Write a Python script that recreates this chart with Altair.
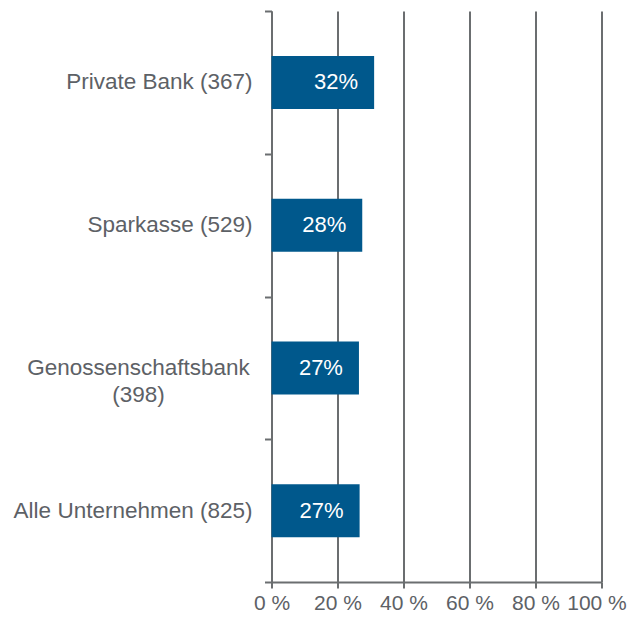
import altair as alt
import pandas as pd

categories = ["Private Bank (367)", "Sparkasse (529)", "Genossenschaftsbank (398)", "Alle Unternehmen (825)"]
label_lines = [["Private Bank (367)"], ["Sparkasse (529)"], ["Genossenschaftsbank", "(398)"], ["Alle Unternehmen (825)"]]
bar_values = [31.1, 27.5, 26.5, 26.7]
value_labels = ["32%", "28%", "27%", "27%"]
x_ticks = [0, 20, 40, 60, 80, 100]

df = pd.DataFrame({
    "cat": categories,
    "val": bar_values,
    "txt": value_labels,
    "lab": ["\n".join(l) for l in label_lines],
    "multi": [len(l) > 1 for l in label_lines],
})

GRAY = "#6b6e70"
TEXT = "#5d6166"
BLUE = "#00588c"
FS = 22.5

y_enc = alt.Y("cat:N", sort=categories, title=None,
              scale=alt.Scale(paddingInner=0, paddingOuter=0),
              axis=alt.Axis(labels=False, tickBand="extent", ticks=True, tickSize=7,
                            tickColor=GRAY, tickWidth=2, domainColor=GRAY, domainWidth=2,
                            grid=False))
x_enc = alt.X("val:Q", title=None,
              scale=alt.Scale(domain=[0, 100], nice=False),
              axis=alt.Axis(values=x_ticks, labelExpr="datum.value + ' %'", grid=True,
                            gridColor=GRAY, gridWidth=2, domainColor=GRAY, domainWidth=2,
                            tickColor=GRAY, tickWidth=2, tickSize=6,
                            labelFontSize=21, labelColor=TEXT, labelFont="Liberation Sans",
                            labelPadding=4, labelFlush=False,
                            labelOffset={"condition": {"test": "datum.value == 100", "value": -5},
                                         "value": 0}))

base = alt.Chart(df)
bars = base.mark_bar(color=BLUE, size=53).encode(x=x_enc, y=y_enc)
vals = base.mark_text(align="right", baseline="middle", dx=-16, color="white",
                      fontSize=22, font="Liberation Sans").encode(
    x="val:Q", y=alt.Y("cat:N", sort=categories), text="txt:N")
single = base.transform_filter("!datum.multi").mark_text(
    align="right", baseline="middle", color=TEXT, fontSize=FS, font="Liberation Sans").encode(
    x=alt.value(-19), y=alt.Y("cat:N", sort=categories), text="lab:N")
multi = base.transform_filter("datum.multi").mark_text(
    align="center", baseline="middle", color=TEXT, fontSize=FS, font="Liberation Sans",
    lineBreak="\n", lineHeight=27).encode(
    x=alt.value(-133), y=alt.Y("cat:N", sort=categories), text="lab:N")

chart = alt.layer(bars, vals, single, multi).properties(
    width=330, height=571,
    autosize=alt.AutoSizeParams(type="none"),
    padding={"left": 263.5, "top": 3, "right": 25.5, "bottom": 31},
).configure_view(stroke=None)

chart.save("out.html", embed_options={"renderer": "svg", "actions": False})
